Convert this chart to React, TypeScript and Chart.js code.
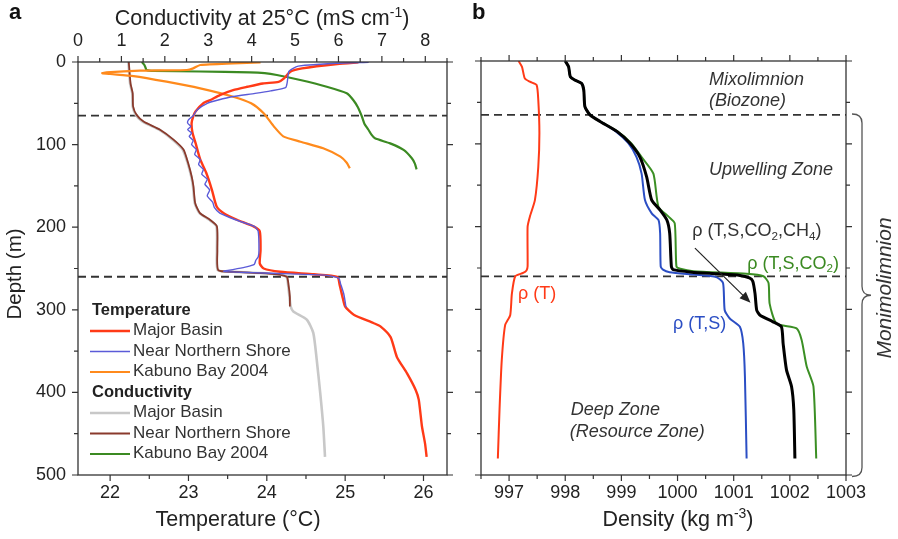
import React, { useEffect, useRef } from "react";
import { Chart, registerables } from "chart.js";
Chart.register(...registerables);

const FONT = "'Liberation Sans', Arial, Helvetica, sans-serif";
const AXIS = "#333333";
const TXT = "#222222";

// ---------------- Panel a ----------------
const tempTicks = [22, 23, 24, 25, 26];
const condTicks = [0, 1, 2, 3, 4, 5, 6, 7, 8];
const depthTicks = [0, 100, 200, 300, 400, 500];
const boundaryDepths = [65, 260];

// Temperature – Major Basin
const mbTempDepth = [0.5, 2.4, 7.7, 11.7, 19.8, 24, 26, 30, 34, 40, 46, 50, 60, 66, 74, 85, 98, 118, 135, 155, 175, 183, 191, 199, 205, 228, 244, 250, 254, 257, 260, 270, 286, 296, 306, 316, 320, 333, 357, 377, 397, 409, 441, 462, 478];
const mbTemp = [25.17, 24.9, 24.45, 24.3, 24.22, 24.15, 23.95, 23.75, 23.57, 23.4, 23.28, 23.19, 23.09, 23.06, 23.04, 23.05, 23.09, 23.15, 23.23, 23.3, 23.36, 23.45, 23.62, 23.83, 23.91, 23.92, 23.91, 23.96, 24.17, 24.6, 24.9, 24.93, 24.97, 25.0, 25.11, 25.36, 25.45, 25.58, 25.66, 25.79, 25.9, 25.94, 25.98, 26.02, 26.04];

// Temperature – Near Northern Shore
const nnsTempDepth = [0.4, 1.6, 5, 8, 11.7, 25, 31, 35, 38, 42, 46, 50, 58, 65, 70, 74, 78, 82, 86, 90, 95, 100, 106, 112, 118, 124, 130, 136, 142, 148, 155, 162, 170, 176, 183, 191, 199, 205, 228, 236, 240, 245, 248, 251, 253.5, 255, 256.5, 258, 262, 268, 280, 290, 297];
const nnsTemp = [25.3, 24.88, 24.4, 24.33, 24.28, 24.26, 24.24, 24.05, 23.85, 23.55, 23.38, 23.24, 23.11, 23.06, 23.0, 22.99, 23.03, 22.99, 23.04, 23.01, 23.06, 23.04, 23.1, 23.08, 23.15, 23.13, 23.19, 23.17, 23.24, 23.21, 23.27, 23.24, 23.31, 23.33, 23.4, 23.6, 23.84, 23.89, 23.9, 23.89, 23.86, 23.84, 23.74, 23.58, 23.45, 23.8, 24.3, 24.75, 24.92, 24.94, 24.98, 25.0, 25.01];

// Temperature – Kabuno Bay 2004
const kbTempDepth = [0.4, 1.6, 3.6, 7.7, 9.7, 10.5, 12.5, 13.5, 14.5, 17, 23.8, 31.9, 42, 50, 62, 78, 90, 96.5, 104.5, 114.6, 122, 128.7];
const kbTemp = [23.92, 23.57, 23.15, 23.06, 22.98, 22.38, 21.95, 21.9, 22.0, 22.3, 22.72, 23.15, 23.57, 23.8, 23.96, 24.09, 24.21, 24.43, 24.72, 24.94, 25.02, 25.06];

// Conductivity – Major Basin
const mbCondDepth = [0, 26, 38, 54, 64, 72, 82, 94, 106, 123, 139, 151, 171, 183, 191, 199, 228, 252, 254, 255.5, 257, 260, 270, 284, 296, 302, 312, 328, 361, 401, 441, 478];
const mbCond = [1.16, 1.2, 1.25, 1.26, 1.33, 1.48, 1.87, 2.18, 2.41, 2.53, 2.61, 2.65, 2.69, 2.8, 3.02, 3.19, 3.2, 3.22, 3.58, 4.18, 4.57, 4.8, 4.84, 4.87, 4.9, 4.96, 5.27, 5.42, 5.5, 5.58, 5.65, 5.69];

// Conductivity – Near Northern Shore
const nnsCondDepth = [0, 26, 38, 54, 64, 72, 82, 94, 106, 123, 139, 151, 171, 183, 191, 199, 228, 252, 254, 255.5, 257, 260, 270, 284, 296];
const nnsCond = [1.17, 1.21, 1.26, 1.27, 1.35, 1.51, 1.89, 2.2, 2.43, 2.54, 2.62, 2.66, 2.7, 2.81, 3.04, 3.2, 3.21, 3.23, 3.6, 4.2, 4.58, 4.81, 4.85, 4.88, 4.88];

// Conductivity – Kabuno Bay 2004
const kbCondDepth = [0, 3, 6, 9.7, 10.8, 11.5, 12.5, 13.5, 15.7, 21.8, 30, 37.9, 46, 55, 66, 75, 82, 88, 92.4, 98.5, 106.5, 116.6, 123, 130];
const kbCond = [1.47, 1.52, 1.55, 1.58, 1.75, 2.8, 3.96, 4.3, 4.58, 5.12, 5.73, 6.19, 6.34, 6.45, 6.54, 6.6, 6.69, 6.76, 6.84, 7.19, 7.5, 7.69, 7.76, 7.8];

// ---------------- Panel b ----------------
const densTicks = [997, 998, 999, 1000, 1001, 1002, 1003];

const rhoTDepth = [0, 7, 21, 25, 29, 47, 87, 128, 168, 188, 200, 248, 253, 256, 260, 281, 307, 319, 361, 421, 480];
const rhoT = [997.17, 997.23, 997.28, 997.37, 997.49, 997.52, 997.54, 997.52, 997.46, 997.37, 997.33, 997.33, 997.31, 997.25, 997.11, 997.05, 997.02, 996.93, 996.87, 996.83, 996.8];

const rhoTSDepth = [0, 7, 19, 23, 27, 35, 55, 65, 73, 85, 99, 116, 136, 168, 184, 192, 208, 248, 252, 255, 258, 261, 268, 301, 311, 321, 341, 381, 480];
const rhoTS = [998.0, 998.06, 998.09, 998.17, 998.29, 998.33, 998.35, 998.44, 998.62, 998.9, 999.12, 999.27, 999.36, 999.42, 999.54, 999.66, 999.69, 999.7, 999.74, 999.86, 1000.3, 1000.69, 1000.81, 1000.84, 1000.93, 1001.11, 1001.17, 1001.2, 1001.23];

const rhoTSCDepth = [0, 7, 19, 23, 27, 35, 55, 65, 73, 85, 99, 116, 136, 176, 188, 196, 248, 251, 254, 257, 260, 268, 293, 317, 323, 337, 369, 393, 480];
const rhoTSC = [998.0, 998.06, 998.09, 998.17, 998.29, 998.33, 998.35, 998.44, 998.62, 998.93, 999.17, 999.36, 999.57, 999.66, 999.84, 999.95, 999.98, 1000.05, 1000.28, 1001.23, 1001.53, 1001.62, 1001.64, 1001.76, 1002.12, 1002.21, 1002.3, 1002.42, 1002.47];

const rhoAllDepth = [0, 7, 19, 23, 27, 35, 55, 65, 73, 85, 99, 116, 140, 168, 180, 192, 208, 248, 252, 255, 257, 259, 262, 266, 281, 301, 307, 315, 321, 341, 373, 393, 421, 480];
const rhoAll = [998.0, 998.06, 998.09, 998.17, 998.29, 998.33, 998.35, 998.44, 998.62, 998.92, 999.15, 999.33, 999.45, 999.54, 999.69, 999.81, 999.86, 999.89, 999.92, 1000.25, 1000.7, 1001.11, 1001.28, 1001.34, 1001.38, 1001.41, 1001.47, 1001.7, 1001.85, 1001.88, 1001.94, 1002.03, 1002.07, 1002.09];

// ---------------- helpers ----------------
type Seg = { t: string; s?: "sup" | "sub" };

function pts(xs: number[], ds: number[]) {
  return xs.map((v, i) => ({ x: v, y: ds[i] }));
}

function drawRich(ctx: CanvasRenderingContext2D, segs: Seg[], x: number, y: number, size: number, opt: any = {}) {
  const align = opt.align || "left";
  const style = opt.style || "normal";
  const weight = opt.weight || "normal";
  const fontFor = (sz: number) => `${style} ${weight} ${sz}px ${FONT}`;
  let total = 0;
  const widths = segs.map((sg) => {
    const sz = sg.s ? size * 0.65 : size;
    ctx.font = fontFor(sz);
    const w = ctx.measureText(sg.t).width;
    total += w;
    return w;
  });
  let cx = align === "center" ? x - total / 2 : align === "right" ? x - total : x;
  ctx.fillStyle = opt.color || TXT;
  ctx.textAlign = "left";
  ctx.textBaseline = "alphabetic";
  segs.forEach((sg, i) => {
    const sz = sg.s ? size * 0.65 : size;
    ctx.font = fontFor(sz);
    const dy = sg.s === "sup" ? -size * 0.38 : sg.s === "sub" ? size * 0.22 : 0;
    ctx.fillText(sg.t, cx, y + dy);
    cx += widths[i];
  });
}

function drawRotated(ctx: CanvasRenderingContext2D, segs: Seg[], x: number, y: number, size: number, opt: any = {}) {
  ctx.save();
  ctx.translate(x, y);
  ctx.rotate(-Math.PI / 2);
  drawRich(ctx, segs, 0, 0, size, { ...opt, align: "center" });
  ctx.restore();
}

function halfSteps(major: number[], min: number, max: number) {
  const step = major[1] - major[0];
  const out: number[] = [];
  for (let v = major[0] - step / 2; v <= major[major.length - 1] + step / 2 + 1e-9; v += step / 2) {
    const isMajor = major.some((m) => Math.abs(m - v) < 1e-6);
    if (!isMajor && v >= min - 1e-6 && v <= max + 1e-6) out.push(v);
  }
  return out;
}

function drawTicks(ctx: CanvasRenderingContext2D, scale: any, major: number[], side: string, a: any) {
  const minor = halfSteps(major, scale.min, scale.max);
  const one = (vals: number[], len: number) => {
    ctx.beginPath();
    for (const v of vals) {
      const p = scale.getPixelForValue(v);
      if (side === "top") { ctx.moveTo(p, a.top); ctx.lineTo(p, a.top - len); }
      if (side === "bottom") { ctx.moveTo(p, a.bottom); ctx.lineTo(p, a.bottom + len); }
      if (side === "left") { ctx.moveTo(a.left, p); ctx.lineTo(a.left - len, p); }
      if (side === "right") { ctx.moveTo(a.right, p); ctx.lineTo(a.right + len, p); }
    }
    ctx.stroke();
  };
  one(major.filter((v) => v >= scale.min - 1e-6 && v <= scale.max + 1e-6), 6);
  one(minor, 4);
}

function frame(ctx: CanvasRenderingContext2D, a: any) {
  ctx.strokeStyle = AXIS;
  ctx.lineWidth = 1.3;
  ctx.strokeRect(a.left, a.top, a.right - a.left, a.bottom - a.top);
}

const tickFont = { family: FONT, size: 18 };
const plainNum = (v: any) => String(v);

function fixTicks(values: number[]) {
  return (s: any) => {
    s.ticks = values.map((v) => ({ value: v }));
  };
}

const legendRows = [
  { header: "Temperature" },
  { label: "Major Basin", color: "#ff3a17", w: 2.4 },
  { label: "Near Northern Shore", color: "#5b5bd8", w: 1.4 },
  { label: "Kabuno Bay 2004", color: "#ff8a1c", w: 2.2 },
  { header: "Conductivity" },
  { label: "Major Basin", color: "#c8c8c8", w: 2.4 },
  { label: "Near Northern Shore", color: "#8a3a2c", w: 1.8 },
  { label: "Kabuno Bay 2004", color: "#3b8a22", w: 2.2 },
];

const panelAPlugin = {
  id: "panelA",
  afterDraw(chart: any) {
    const { ctx, chartArea: a, scales } = chart;
    ctx.save();
    frame(ctx, a);
    ctx.lineWidth = 1.2;
    drawTicks(ctx, scales.x, tempTicks, "bottom", a);
    drawTicks(ctx, scales.x2, condTicks, "top", a);
    drawTicks(ctx, scales.y, depthTicks, "left", a);
    drawTicks(ctx, scales.y, depthTicks, "right", a);

    // titles
    drawRich(ctx, [{ t: "Conductivity at 25°C (mS cm" }, { t: "-1", s: "sup" }, { t: ")" }], 262, 25, 21.5, { align: "center" });
    drawRich(ctx, [{ t: "Temperature (°C)" }], 238, 526, 21.5, { align: "center" });
    drawRotated(ctx, [{ t: "Depth (m)" }], 21, 274, 20.5);
    drawRich(ctx, [{ t: "a" }], 9, 19, 22, { weight: "bold", color: "#111" });

    // legend
    const x0 = a.left + 12;
    let y = 310;
    for (const r of legendRows) {
      if ((r as any).header) {
        ctx.font = `bold 16.5px ${FONT}`;
        ctx.fillStyle = "#222";
        ctx.textAlign = "left";
        ctx.textBaseline = "middle";
        ctx.fillText((r as any).header, x0 + 2, y);
      } else {
        ctx.strokeStyle = (r as any).color;
        ctx.lineWidth = (r as any).w;
        ctx.beginPath();
        ctx.moveTo(x0, y + 0.5);
        ctx.lineTo(x0 + 40, y + 0.5);
        ctx.stroke();
        ctx.font = `17px ${FONT}`;
        ctx.fillStyle = "#333";
        ctx.textAlign = "left";
        ctx.textBaseline = "middle";
        ctx.fillText((r as any).label, x0 + 43, y);
      }
      y += 20.5;
    }
    ctx.restore();
  },
};

const annotations = [
  { segs: [{ t: "Mixolimnion" }], x: 1000.56, d: 21, italic: true, color: "#333" },
  { segs: [{ t: "(Biozone)" }], x: 1000.56, d: 47, italic: true, color: "#333" },
  { segs: [{ t: "Upwelling Zone" }], x: 1000.56, d: 130, italic: true, color: "#333" },
  { segs: [{ t: "Deep Zone" }], x: 998.1, d: 420, italic: true, color: "#333" },
  { segs: [{ t: "(Resource Zone)" }], x: 998.08, d: 447, italic: true, color: "#333" },
  { segs: [{ t: "ρ (T,S,CO" }, { t: "2", s: "sub" }, { t: ",CH" }, { t: "4", s: "sub" }, { t: ")" }], x: 1000.26, d: 204, color: "#333" },
  { segs: [{ t: "ρ (T,S,CO" }, { t: "2", s: "sub" }, { t: ")" }], x: 1001.24, d: 243, color: "#3b8a22" },
  { segs: [{ t: "ρ (T,S)" }], x: 999.92, d: 316, color: "#2b4ec4" },
  { segs: [{ t: "ρ (T)" }], x: 997.16, d: 280, color: "#ff3a17" },
];
const arrowFrom = { x: 1000.31, d: 226 };
const arrowTo = { x: 1001.3, d: 292 };
const braceDepths = [64, 500];

const panelBPlugin = {
  id: "panelB",
  afterDraw(chart: any) {
    const { ctx, chartArea: a, scales } = chart;
    const sx = scales.x, sy = scales.y;
    ctx.save();
    frame(ctx, a);
    ctx.lineWidth = 1.2;
    drawTicks(ctx, sx, densTicks, "bottom", a);
    drawTicks(ctx, sx, densTicks, "top", a);
    drawTicks(ctx, sy, depthTicks, "left", a);
    drawTicks(ctx, sy, depthTicks, "right", a);

    drawRich(ctx, [{ t: "Density (kg m" }, { t: "-3", s: "sup" }, { t: ")" }], 678, 526, 21.5, { align: "center" });
    drawRich(ctx, [{ t: "b" }], 472, 19, 22, { weight: "bold", color: "#111" });

    for (const an of annotations) {
      const px = sx.getPixelForValue(an.x);
      const py = sy.getPixelForValue(an.d) + 6.3;
      drawRich(ctx, an.segs as Seg[], px, py, 18, { style: an.italic ? "italic" : "normal", color: an.color });
    }

    // arrow
    const x1 = sx.getPixelForValue(arrowFrom.x), y1 = sy.getPixelForValue(arrowFrom.d);
    const x2 = sx.getPixelForValue(arrowTo.x), y2 = sy.getPixelForValue(arrowTo.d);
    const ang = Math.atan2(y2 - y1, x2 - x1);
    ctx.strokeStyle = "#222";
    ctx.fillStyle = "#222";
    ctx.lineWidth = 1.2;
    ctx.beginPath();
    ctx.moveTo(x1, y1);
    ctx.lineTo(x2 - 8 * Math.cos(ang), y2 - 8 * Math.sin(ang));
    ctx.stroke();
    ctx.beginPath();
    ctx.moveTo(x2, y2);
    ctx.lineTo(x2 - 11 * Math.cos(ang) + 4.5 * Math.sin(ang), y2 - 11 * Math.sin(ang) - 4.5 * Math.cos(ang));
    ctx.lineTo(x2 - 11 * Math.cos(ang) - 4.5 * Math.sin(ang), y2 - 11 * Math.sin(ang) + 4.5 * Math.cos(ang));
    ctx.closePath();
    ctx.fill();

    // brace
    const yT = sy.getPixelForValue(braceDepths[0]);
    const yB = sy.getPixelForValue(braceDepths[1]) + 1.5;
    const yM = (yT + yB) / 2;
    const x0 = a.right + 6, xm = a.right + 16, xp = a.right + 25, r = 9;
    ctx.strokeStyle = "#555";
    ctx.lineWidth = 1.3;
    ctx.beginPath();
    ctx.moveTo(x0, yT);
    ctx.quadraticCurveTo(xm, yT, xm, yT + r);
    ctx.lineTo(xm, yM - r);
    ctx.quadraticCurveTo(xm, yM, xp, yM);
    ctx.quadraticCurveTo(xm, yM, xm, yM + r);
    ctx.lineTo(xm, yB - r);
    ctx.quadraticCurveTo(xm, yB, x0, yB);
    ctx.stroke();

    drawRotated(ctx, [{ t: "Monimolimnion" }], 891, 288, 21, { style: "italic", color: "#333" });
    ctx.restore();
  },
};

function dashSet(xmin: number, xmax: number, d: number, xAxisID: string) {
  return {
    data: [{ x: xmin, y: d }, { x: xmax, y: d }],
    borderColor: "#333",
    borderWidth: 1.8,
    borderDash: [8, 5],
    pointRadius: 0,
    showLine: true,
    xAxisID,
    tension: 0,
  };
}

function lineSet(data: any[], color: string, width: number, xAxisID: string) {
  return {
    data,
    borderColor: color,
    borderWidth: width,
    pointRadius: 0,
    showLine: true,
    tension: 0.2,
    xAxisID,
    fill: false,
  };
}

export default function App() {
  const refA = useRef<HTMLCanvasElement>(null);
  const refB = useRef<HTMLCanvasElement>(null);

  useEffect(() => {
    const TMIN = 21.59, TMAX = 26.3;
    const chartA = new Chart(refA.current as HTMLCanvasElement, {
      type: "scatter",
      data: {
        datasets: [
          lineSet(pts(nnsTemp, nnsTempDepth), "#5b5bd8", 1.4, "x"),
          lineSet(pts(mbTemp, mbTempDepth), "#ff3a17", 2.4, "x"),
          lineSet(pts(kbTemp, kbTempDepth), "#ff8a1c", 2.2, "x"),
          lineSet(pts(kbCond, kbCondDepth), "#3b8a22", 2.2, "x2"),
          lineSet(pts(nnsCond, nnsCondDepth), "#8a3a2c", 1.8, "x2"),
          lineSet(pts(mbCond, mbCondDepth), "#c8c8c8", 2.6, "x2"),
          ...boundaryDepths.map((d) => dashSet(TMIN, TMAX, d, "x")),
        ] as any,
      },
      options: {
        responsive: false,
        devicePixelRatio: 1,
        animation: false,
        layout: { padding: { left: 0, right: 451, top: 0, bottom: 0 } },
        plugins: { legend: { display: false }, tooltip: { enabled: false } },
        scales: {
          x: {
            type: "linear", position: "bottom", min: TMIN, max: TMAX,
            grid: { display: false, drawTicks: false }, border: { display: false },
            ticks: { font: tickFont, color: TXT, padding: 7, callback: plainNum },
            afterBuildTicks: fixTicks(tempTicks),
            afterFit: (s: any) => { s.height = 64; },
          },
          x2: {
            type: "linear", position: "top", min: 0, max: 8.5,
            grid: { display: false, drawTicks: false }, border: { display: false },
            ticks: { font: tickFont, color: TXT, padding: 10, callback: plainNum },
            afterBuildTicks: fixTicks(condTicks),
            afterFit: (s: any) => { s.height = 62; },
          },
          y: {
            type: "linear", position: "left", min: 0, max: 500, reverse: true,
            grid: { display: false, drawTicks: false }, border: { display: false },
            ticks: { font: tickFont, color: TXT, padding: 12, callback: plainNum },
            afterBuildTicks: fixTicks(depthTicks),
            afterFit: (s: any) => { s.width = 78; },
          },
        },
      } as any,
      plugins: [panelAPlugin],
    });

    const DMIN = 996.5, DMAX = 1003;
    const chartB = new Chart(refB.current as HTMLCanvasElement, {
      type: "scatter",
      data: {
        datasets: [
          lineSet(pts(rhoAll, rhoAllDepth), "#000000", 3, "x"),
          lineSet(pts(rhoTSC, rhoTSCDepth), "#3b8f24", 2, "x"),
          lineSet(pts(rhoTS, rhoTSDepth), "#2b4ec4", 2, "x"),
          lineSet(pts(rhoT, rhoTDepth), "#ff3a17", 2, "x"),
          ...boundaryDepths.map((d) => dashSet(DMIN, DMAX, d, "x")),
        ] as any,
      },
      options: {
        responsive: false,
        devicePixelRatio: 1,
        animation: false,
        layout: { padding: { left: 0, right: 52, top: 61, bottom: 0 } },
        plugins: { legend: { display: false }, tooltip: { enabled: false } },
        scales: {
          x: {
            type: "linear", position: "bottom", min: DMIN, max: DMAX,
            grid: { display: false, drawTicks: false }, border: { display: false },
            ticks: { font: tickFont, color: TXT, padding: 7, callback: plainNum },
            afterBuildTicks: fixTicks(densTicks),
            afterFit: (s: any) => { s.height = 64; },
          },
          y: {
            type: "linear", position: "left", min: 0, max: 500, reverse: true,
            grid: { display: false, drawTicks: false }, border: { display: false },
            ticks: { display: false },
            afterBuildTicks: fixTicks(depthTicks),
            afterFit: (s: any) => { s.width = 481; },
          },
        },
      } as any,
      plugins: [panelBPlugin],
    });

    return () => {
      chartA.destroy();
      chartB.destroy();
    };
  }, []);

  const cs: React.CSSProperties = { position: "absolute", left: 0, top: 0, width: 898, height: 539 };
  return (
    <div style={{ position: "fixed", left: 0, top: 0, width: 898, height: 539, background: "#fff" }}>
      <canvas ref={refA} width={898} height={539} style={cs} />
      <canvas ref={refB} width={898} height={539} style={cs} />
    </div>
  );
}
